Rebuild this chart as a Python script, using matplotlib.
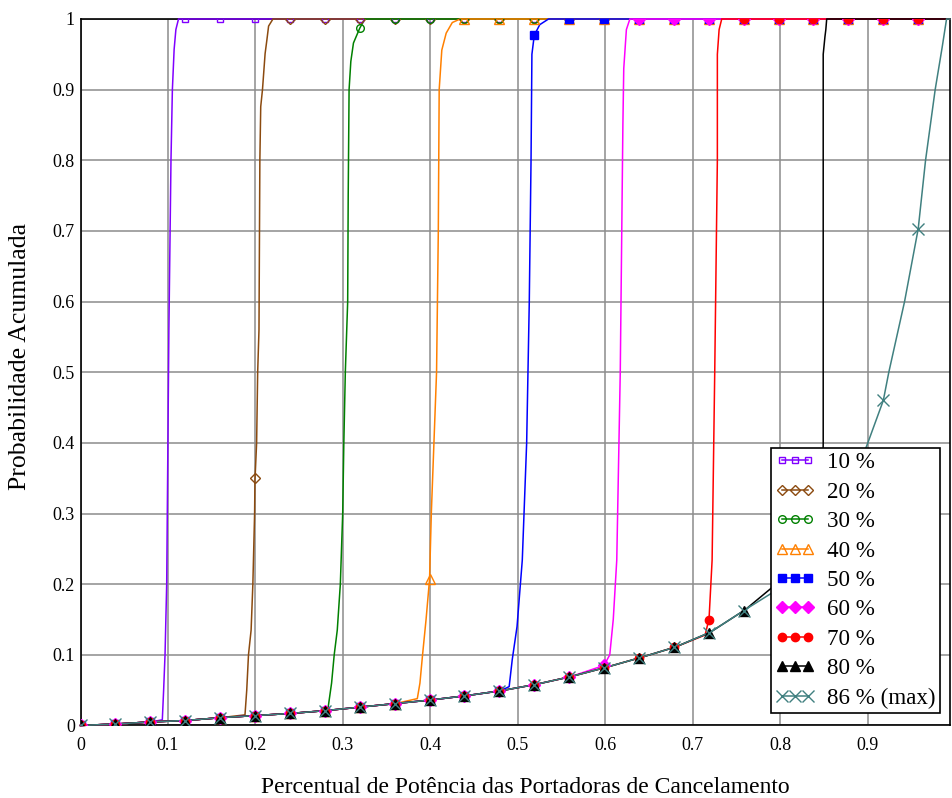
import numpy as np
import matplotlib
matplotlib.use("Agg")
from matplotlib import pyplot as plt
from matplotlib.lines import Line2D

plt.rcParams['font.family'] = ['Liberation Serif', 'DejaVu Serif']

X_MAX = 0.994
MARK_STEP = 0.0399   # markers are spaced a bit under 0.04

# common lower part of every CDF (read at every 0.04)
base_x = [0.0, 0.04, 0.08, 0.12, 0.16, 0.20, 0.24, 0.28, 0.32, 0.36, 0.40,
          0.44, 0.48, 0.52, 0.56, 0.60, 0.64, 0.68, 0.72, 0.76]
base_y = [0.0, 0.002, 0.005, 0.007, 0.011, 0.014, 0.017, 0.021, 0.026, 0.031, 0.036,
          0.042, 0.049, 0.058, 0.069, 0.082, 0.096, 0.111, 0.132, 0.164]

# rising part of each curve
rise_10_x = [0.0935, 0.095, 0.0966, 0.0985, 0.101, 0.1034, 0.105, 0.107, 0.109, 0.112]
rise_10_y = [0.008, 0.05, 0.1, 0.2, 0.56, 0.8, 0.9, 0.957, 0.985, 1.0]
rise_20_x = [0.188, 0.19, 0.192, 0.195, 0.197, 0.199, 0.1994, 0.2013, 0.2025, 0.204,
             0.205, 0.206, 0.208, 0.211, 0.213, 0.215, 0.22]
rise_20_y = [0.015, 0.05, 0.1, 0.135, 0.2, 0.3, 0.347, 0.4, 0.5, 0.56,
             0.8, 0.876, 0.9, 0.951, 0.97, 0.99, 1.0]
rise_30_x = [0.283, 0.287, 0.29, 0.2935, 0.297, 0.2997, 0.301, 0.3027, 0.3054, 0.306,
             0.307, 0.309, 0.312, 0.3192, 0.325]
rise_30_y = [0.025, 0.06, 0.1, 0.135, 0.2, 0.3, 0.4, 0.5, 0.6, 0.75,
             0.9, 0.94, 0.966, 0.987, 1.0]
rise_40_x = [0.385, 0.388, 0.391, 0.395, 0.399, 0.401, 0.404, 0.407, 0.409, 0.41,
             0.413, 0.418, 0.425, 0.434]
rise_40_y = [0.038, 0.06, 0.1, 0.15, 0.207, 0.3, 0.4, 0.5, 0.7, 0.9,
             0.956, 0.98, 0.995, 1.0]
rise_50_x = [0.49, 0.4935, 0.499, 0.505, 0.51, 0.513, 0.515, 0.516, 0.5187, 0.525, 0.535]
rise_50_y = [0.055, 0.093, 0.14, 0.234, 0.4, 0.6, 0.8, 0.95, 0.977, 0.992, 1.0]
rise_60_x = [0.5985, 0.605, 0.609, 0.613, 0.617, 0.62, 0.621, 0.624, 0.628]
rise_60_y = [0.085, 0.1, 0.15, 0.234, 0.5, 0.85, 0.93, 0.985, 1.0]
rise_70_x = [0.714, 0.7185, 0.722, 0.725, 0.728, 0.728, 0.73, 0.733]
rise_70_y = [0.128, 0.151, 0.234, 0.5, 0.8, 0.95, 0.985, 1.0]
rise_80_x = [0.80, 0.82, 0.84, 0.848, 0.849, 0.849, 0.851, 0.852, 0.853]
rise_80_y = [0.205, 0.24, 0.285, 0.32, 0.4, 0.95, 0.975, 0.985, 1.0]
rise_86_x = [0.80, 0.84, 0.88, 0.90, 0.9177, 0.924, 0.942, 0.9576, 0.966, 0.977, 0.985, 0.99]
rise_86_y = [0.195, 0.255, 0.335, 0.40, 0.46, 0.5, 0.6, 0.703, 0.8, 0.9, 0.96, 1.0]

labels = ['10 %', '20 %', '30 %', '40 %', '50 %', '60 %', '70 %', '80 %', '86 % (max)']
rises = [(rise_10_x, rise_10_y), (rise_20_x, rise_20_y), (rise_30_x, rise_30_y),
         (rise_40_x, rise_40_y), (rise_50_x, rise_50_y), (rise_60_x, rise_60_y),
         (rise_70_x, rise_70_y), (rise_80_x, rise_80_y), (rise_86_x, rise_86_y)]
colors = ['#8000ff', '#8b4a0f', '#008000', '#ff8000', '#0000ff', '#ff00ff',
          '#ff0000', '#000000', '#408080']
markers = ['s', 'D', 'o', '^', 's', 'D', 'o', '^', 'x']
filled = [False, False, False, False, True, True, True, True, True]
msizes = [5, 5, 5.5, 6.5, 5.5, 6, 6, 7, 8]
mark_max = [0.97] * 7 + [0.845, 0.97]

fig = plt.figure(figsize=(9.53, 7.98), dpi=100)
ax = fig.add_axes([0.0845, 0.0909, 0.9124, 0.8853])

bx = np.array(base_x)
by = np.array(base_y)
handles = []
curves = []
for (rx, ry), c in zip(rises, colors):
    keep = bx < rx[0]
    xs = np.concatenate([bx[keep], rx])
    ys = np.concatenate([by[keep], ry])
    if xs[-1] < X_MAX:
        xs = np.append(xs, X_MAX)
        ys = np.append(ys, 1.0)
    curves.append((xs, ys))
    ax.plot(xs, ys, color=c, lw=1.1, zorder=3, clip_on=False)

x_marks = np.arange(25) * MARK_STEP
for (xs, ys), c, m, f, ms, mm in zip(curves, colors, markers, filled, msizes, mark_max):
    xm = x_marks[x_marks <= mm]
    ym = np.interp(xm, xs, ys)
    fc = c if f else 'none'
    ax.plot(xm, ym, ls='none', marker=m, ms=ms, mfc=fc, mec=c, mew=1.0, zorder=4)
    handles.append(Line2D([], [], color=c, lw=1.1, marker=m, ms=ms, mfc=fc, mec=c, mew=1.0))

ax.set_xlim(0, X_MAX)
ax.set_ylim(0, 1)
ax.set_xticks(np.arange(0, 1.0, 0.1))
ax.set_xticklabels(['0', '0.1', '0.2', '0.3', '0.4', '0.5', '0.6', '0.7', '0.8', '0.9'])
ax.set_yticks(np.arange(0, 1.01, 0.1))
ax.set_yticklabels(['0', '0.1', '0.2', '0.3', '0.4', '0.5', '0.6', '0.7', '0.8', '0.9', '1'])
ax.tick_params(length=0, labelsize=13)
ax.tick_params(axis='x', pad=8)
ax.tick_params(axis='y', pad=4)
ax.grid(True, color='#8c8c8c', lw=1.1)
ax.set_axisbelow(True)
for s in ax.spines.values():
    s.set_linewidth(1.2)
    s.set_color('black')

ax.set_xlabel('Percentual de Potência das Portadoras de Cancelamento', fontsize=17)
ax.xaxis.set_label_coords(0.512, -0.0725)
ax.set_ylabel('Probabilidade Acumulada', fontsize=18.5)
ax.yaxis.set_label_coords(-0.0565, 0.523)

leg = ax.legend(handles, labels, loc='lower right', bbox_to_anchor=(0.9885, 0.0177),
                borderaxespad=0, numpoints=3, handlelength=1.7, handletextpad=0.55,
                fontsize=16.6, labelspacing=0.36, borderpad=0.18, fancybox=False,
                framealpha=1, edgecolor='black')
leg.get_frame().set_linewidth(1.2)
leg.set_zorder(5)

fig.savefig('out.png', dpi=100)
